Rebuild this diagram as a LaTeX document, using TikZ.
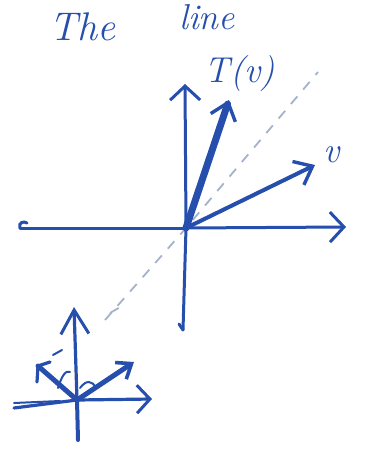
\documentclass[tikz,border=0pt]{standalone}
\usetikzlibrary{arrows.meta}
\definecolor{ink}{RGB}{38,78,172}
\definecolor{dash}{RGB}{165,178,205}
\tikzset{
  ax/.style={draw=ink,line width=3pt,line cap=round},
  vec/.style={draw=ink,line width=4pt,line cap=round,-{Straight Barb[length=16pt,width=26pt,line width=3.4pt]}},
  bar/.style={draw=ink,line width=3pt,line cap=round,-{Straight Barb[length=14pt,width=30pt,line width=3pt]}},
  lbl/.style={text=ink,font=\fontsize{36}{36}\selectfont\itshape,inner sep=0pt},
  guide/.style={draw=dash,line width=1.8pt,dash pattern=on 10pt off 9pt},
  small/.style={draw=ink,line width=3.2pt,line cap=round}
}
\begin{document}
\begin{tikzpicture}[x=1pt,y=-1pt]
\useasboundingbox (0,0) rectangle (368,454);
% title
\node[lbl,font=\fontsize{40}{40}\selectfont\itshape] (the) at (82,27) {The};
\node[lbl] (line) at (207,17) {line};
% main axes
\coordinate (O) at (186,228);
\coordinate (L) at (20,228);
\coordinate (R) at (346,227);
\coordinate (Tp) at (185,84);
\coordinate (Bt) at (183,330);
\draw[guide] (105,320) -- (O) -- (318,72);
\draw[ax] (L) -- (O);
\draw[bar] (O) -- (R);
\draw[bar] (O) -- (Tp);
\draw[ax] (Bt) -- (O);
\draw[ax] (L) .. controls (18,222) and (24,221) .. (27,223);
\draw[ax] (Bt) -- (179,324);
% vectors
\coordinate (Tv) at (229,100);
\coordinate (V) at (315,165);
\draw[vec,line width=7pt] (O) -- (Tv);
\draw[vec] (O) -- (V);
\node[lbl] (tvl) at (240,74) {T(v)};
\node[lbl] (vl) at (332,155) {v};
% small sketch
\coordinate (o2) at (77,400);
\coordinate (t2) at (74,307);
\coordinate (b2) at (78,440);
\coordinate (l2) at (14,408);
\coordinate (r2) at (152,399);
\coordinate (ur) at (134,362);
\coordinate (ul) at (38,366);
\draw[small,line width=4pt] (b2) -- (o2);
\draw[small,-{Straight Barb[length=24pt,width=28pt,line width=3pt]}] (o2) -- (t2);
\draw[small] (l2) -- (o2);
\draw[small,-{Straight Barb[length=13pt,width=28pt,line width=3pt]}] (o2) -- (r2);
\draw[small,line width=5pt,-{Straight Barb[length=13pt,width=20pt,line width=3.6pt]}] (o2) -- (ur);
\draw[small,line width=5pt] (o2) -- (ul);
\draw[small] (ul) -- (37,382);
\draw[small] (ul) -- (50,362);
\draw[small,line width=2pt] (58,388) .. controls (62,375) and (66,370) .. (70,372);
\draw[small,line width=2pt] (80,388) .. controls (86,380) and (92,380) .. (96,388);
\draw[small,line width=2pt] (14,403) -- (60,401);
\draw[small,line width=2pt] (53,355) -- (62,350);
\draw[guide] (110,313) -- (122,306);
\end{tikzpicture}
\end{document}
